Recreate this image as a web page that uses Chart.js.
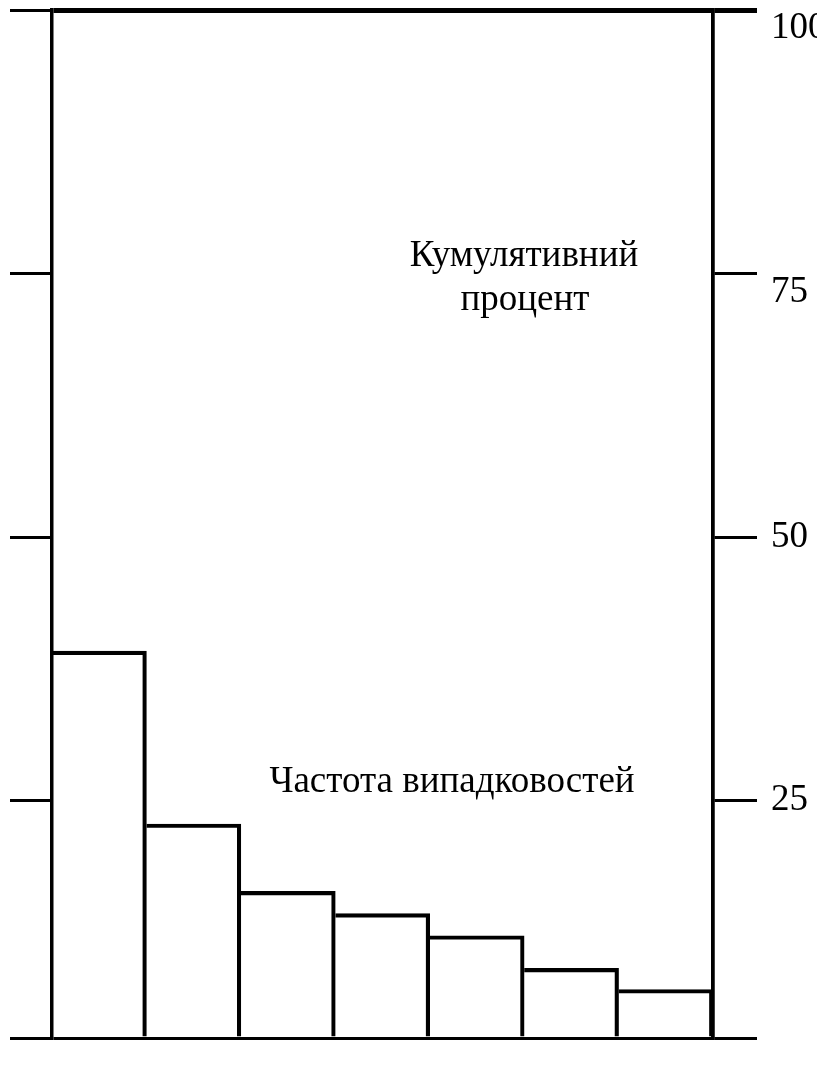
<!DOCTYPE html>
<html>
<head>
<meta charset="utf-8">
<script src="https://cdn.jsdelivr.net/npm/chart.js@4/dist/chart.umd.min.js"></script>
<style>
  html, body { margin: 0; padding: 0; background: #fff; }
  #wrap { width: 817px; height: 1066px; }
</style>
</head>
<body>
<div id="wrap"><canvas id="paretoChart"></canvas></div>
<script>
// categories (unlabelled in the picture)
const categories = ['1', '2', '3', '4', '5', '6', '7'];
// bar heights
const frequency = [39.2, 22.8, 16.4, 14.3, 12.2, 9.1, 7.1];
// percent ticks on the right: upper labels hang below their tick, lower ones sit on it
const upperTicks = [75, 100];
const lowerTicks = [25, 50];
// the drawing is cut off a bit above zero
const yMin = 2.5;
const yMax = 100;

const serif = '"Liberation Serif", "Times New Roman", serif';
const black = '#000';
const none = 'rgba(0,0,0,0)';
const rightWidth = 104;

// free text in the plot
const notes = [
    { text: 'Кумулятивний', x: 524, y: 266 },
    { text: 'процент', x: 525, y: 310 },
    { text: 'Частота випадковостей', x: 452, y: 792 }
];

const notesPlugin = {
    id: 'notes',
    // the inner right scale takes no room in the layout, but needs its width back to show labels
    afterLayout(chart) {
        const s = chart.scales.yLow;
        s.width = rightWidth;
        s.right = s.left + rightWidth;
    },
    afterDraw(chart) {
        const ctx = chart.ctx;
        ctx.save();
        ctx.font = '37px ' + serif;
        ctx.fillStyle = black;
        ctx.textAlign = 'center';
        ctx.textBaseline = 'alphabetic';
        notes.forEach(n => ctx.fillText(n.text, n.x, n.y));
        ctx.restore();
    }
};

const ticksFrom = list => scale => {
    scale.ticks = list.map(v => ({ value: v }));
};

const noPad = w => scale => {
    scale.width = w;
    scale.paddingTop = 0;
    scale.paddingBottom = 0;
};

const rightTicks = {
    padding: 14,
    color: black,
    font: { family: serif, size: 37 },
    callback: v => v === yMin ? '' : String(v)
};

const rightGrid = {
    drawOnChartArea: false,
    tickLength: 44,
    color: black,
    lineWidth: ctx => ctx.tick && ctx.tick.value === yMax ? 5 : 3
};

new Chart(document.getElementById('paretoChart'), {
    type: 'bar',
    data: {
        labels: categories,
        datasets: [{
            data: frequency,
            base: yMin,
            backgroundColor: none,
            borderColor: black,
            borderWidth: { top: 3.5, right: 3.5, bottom: 0, left: 0 },
            borderSkipped: 'start',
            barPercentage: 1,
            categoryPercentage: 1,
            yAxisID: 'y'
        }]
    },
    plugins: [notesPlugin],
    options: {
        responsive: true,
        maintainAspectRatio: false,
        animation: false,
        layout: { padding: { left: 10, right: 0, top: 10, bottom: 28 } },
        plugins: {
            legend: { display: false },
            tooltip: { enabled: false }
        },
        scales: {
            x: { display: false },
            y: {
                position: 'left',
                min: yMin,
                max: yMax,
                afterBuildTicks: ticksFrom([yMin, 25, 50, 75, 100]),
                afterFit: noPad(42),
                ticks: { display: false },
                grid: {
                    tickLength: 42,
                    lineWidth: ctx => ctx.tick && ctx.tick.value === yMax ? 5 : 3,
                    color: ctx => ctx.tick && (ctx.tick.value === yMax || ctx.tick.value === yMin) ? black : none,
                    tickColor: black,
                    tickWidth: 3
                },
                border: { display: true, color: black, width: 3.5 }
            },
            yLow: {
                position: 'right',
                weight: 0,
                min: yMin,
                max: yMax,
                afterBuildTicks: ticksFrom(lowerTicks),
                afterFit: noPad(0),
                ticks: rightTicks,
                grid: rightGrid,
                border: { display: true, color: black, width: 3.5 }
            },
            yHigh: {
                position: 'right',
                weight: 1,
                min: yMin,
                max: yMax,
                afterBuildTicks: ticksFrom([yMin].concat(upperTicks)),
                afterFit: noPad(rightWidth),
                ticks: Object.assign({ align: 'start' }, rightTicks),
                grid: rightGrid,
                border: { display: true, color: black, width: 3.5 }
            }
        }
    }
});
</script>
</body>
</html>
